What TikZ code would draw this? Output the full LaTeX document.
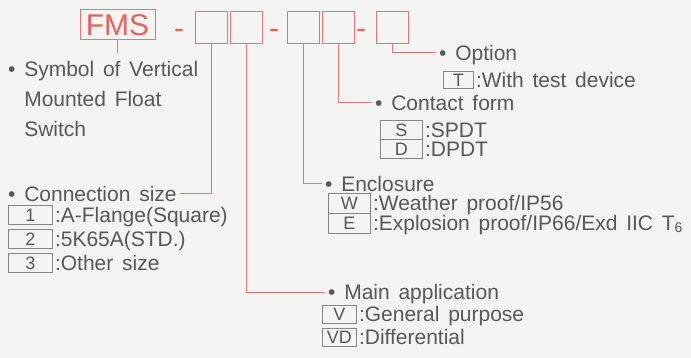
\documentclass[tikz,border=0pt]{standalone}
\usepackage{fontspec}
\setmainfont{Liberation Sans}[WordSpace=1.5]
\usepackage{xcolor}
\usetikzlibrary{positioning}
\definecolor{bgcol}{RGB}{244,244,242}
\definecolor{pinkline}{RGB}{226,118,118}
\definecolor{fmsred}{RGB}{232,96,96}
\definecolor{txtgray}{RGB}{88,88,88}
\definecolor{keygray}{RGB}{135,135,135}
\newcommand{\bodyfont}{\fontsize{21}{30}\selectfont}

\begin{document}
\begin{tikzpicture}[x=1pt, y=-1pt,
    codebox/.style={draw=pinkline, line width=1, minimum width=32, minimum height=32, inner sep=0},
    dashmark/.style={anchor=base, inner sep=0, text=fmsred, font=\fontsize{30}{30}\selectfont},
    keybox/.style={draw=keygray, line width=0.8, anchor=west, inner sep=0, text=txtgray, font=\fontsize{18}{18}\selectfont},
    head/.style={anchor=west, inner sep=0, inner xsep=3, text height=15, text depth=0, text=txtgray, font=\bodyfont},
    desc/.style={anchor=west, inner sep=0, inner xsep=2, text height=15, text depth=0, text=txtgray, font=\bodyfont},
    lead/.style={draw=pinkline, line width=1}]

    \fill[bgcol] (0,0) rectangle (691,358);
    \useasboundingbox (0,0) rectangle (691,358);

    \node[codebox, minimum width=75, minimum height=30, text=fmsred, font=\fontsize{30}{30}\selectfont] (fms) at (117.5,25) {FMS};
    \node[dashmark] (d1) at (179,39) {-};
    \node[codebox] (b1) at (211,28) {};
    \node[codebox] (b2) at (246,28) {};
    \node[dashmark] (d2) at (274,39) {-};
    \node[codebox] (b3) at (303,28) {};
    \node[codebox] (b4) at (338,28) {};
    \node[dashmark] (d3) at (361,39) {-};
    \node[codebox] (b5) at (392,28) {};

    \coordinate (fmsend) at (117.5,53);
    \draw[lead] (fms.south) -- (fmsend);
    \node[anchor=north west, align=left, inner sep=0, text=txtgray, font=\bodyfont] (sym) at (8,61) {• Symbol of Vertical\\\phantom{• }Mounted Float\\\phantom{• }Switch};

    \node[head] (conn) at (5,194) {• Connection size};
    \node[keybox, minimum width=44, minimum height=19] (k1) at (8,215) {1};
    \node[desc] at (k1.east) {:A-Flange(Square)};
    \node[keybox, minimum width=44, minimum height=19] (k2) at (8,239) {2};
    \node[desc] at (k2.east) {:5K65A(STD.)};
    \node[keybox, minimum width=44, minimum height=19] (k3) at (8,263) {3};
    \node[desc] at (k3.east) {:Other size};
    \draw[lead] (b1.south) |- (conn.east);

    \node[head] (appl) at (325,292) {• Main application};
    \node[keybox, minimum width=34, minimum height=18] (kv) at (322,314) {V};
    \node[desc] at (kv.east) {:General purpose};
    \node[keybox, minimum width=34, minimum height=18] (kvd) at (322,337) {VD};
    \node[desc] at (kvd.east) {:Differential};
    \draw[lead] (b2.south) |- (appl.west);

    \node[head] (encl) at (322,184) {• Enclosure};
    \node[keybox, minimum width=42, minimum height=20] (kw) at (328,203) {W};
    \node[desc] at (kw.east) {:Weather proof/IP56};
    \node[keybox, minimum width=42, minimum height=20] (ke) at (328,223) {E};
    \node[desc] at (ke.east) {:Explosion proof/IP66/Exd IIC T\raisebox{-2pt}{\fontsize{14}{14}\selectfont 6}};
    \draw[lead] (b3.south) |- (encl.west);

    \node[head] (cont) at (372,103) {• Contact form};
    \node[keybox, minimum width=42, minimum height=19] (ks) at (380,130) {S};
    \node[desc] at (ks.east) {:SPDT};
    \node[keybox, minimum width=42, minimum height=19] (kd) at (380,149) {D};
    \node[desc] at (kd.east) {:DPDT};
    \draw[lead] (b4.south) |- (cont.west);

    \node[head] (opt) at (436,53) {• Option};
    \node[keybox, minimum width=30, minimum height=17] (kt) at (443,80) {T};
    \node[desc] at (kt.east) {:With test device};
    \draw[lead] (b5.south) |- (opt.west);
\end{tikzpicture}
\end{document}
